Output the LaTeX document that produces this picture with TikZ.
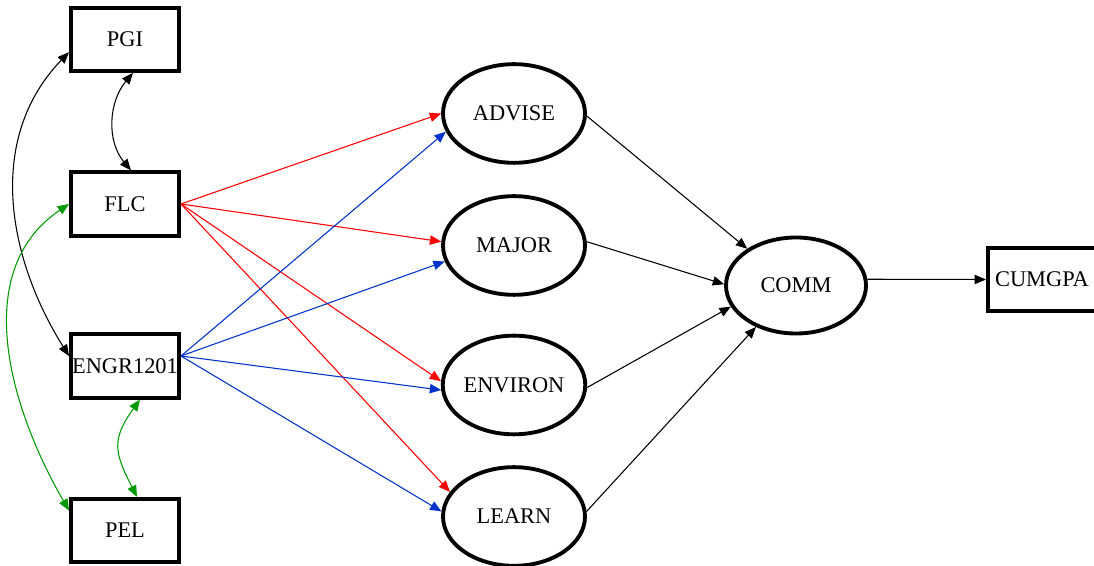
\documentclass[tikz,border=0pt]{standalone}
\usepackage{fontspec}
\setmainfont{Liberation Serif}
\usetikzlibrary{arrows.meta,shapes.geometric,calc}
\definecolor{pathred}{RGB}{255,0,0}
\definecolor{pathblue}{RGB}{0,51,204}
\definecolor{pathgreen}{RGB}{0,153,0}

\begin{document}
\begin{tikzpicture}[x=0.75pt,y=0.75pt,
  lbl/.style={font=\fontsize{16.8}{20}\selectfont},
  obsbox/.style={lbl, draw, rectangle, line width=3pt, minimum width=81pt, minimum height=47.5pt, inner sep=0pt},
  latent/.style={lbl, draw, ellipse, line width=2.9pt, minimum width=106.5pt, minimum height=74pt, inner sep=0pt},
  tip/.tip={Triangle[length=8.5pt,width=7pt]},
  effect/.style={line width=0.8pt, -tip},
  covar/.style={line width=0.8pt, tip-tip},
]
\useasboundingbox (0,0) rectangle (1094,566);

% observed variables
\node[obsbox] (pgi)    at (125,526.8) {PGI};
\node[obsbox] (flc)    at (125,362)   {FLC};
\node[obsbox] (engr)   at (125,200)   {ENGR1201};
\node[obsbox] (pel)    at (125,35.5)  {PEL};
\node[obsbox] (cumgpa) at (1042,286.5) {CUMGPA};

% latent factors
\node[latent] (adv)  at (514,452.5) {ADVISE};
\node[latent] (maj)  at (514,320.5) {MAJOR};
\node[latent] (env)  at (514,181)   {ENVIRON};
\node[latent] (lrn)  at (514,49.5)  {LEARN};
\node[latent, minimum width=105pt, minimum height=72pt] (comm) at (796,280.5) {COMM};

% FLC paths
\draw[effect, pathred] (flc.east) -- (adv.180);
\draw[effect, pathred] (flc.east) -- (maj.177);
\draw[effect, pathred] (flc.east) -- (env.177);
\draw[effect, pathred] (flc.east) -- (lrn.159);

% ENGR1201 paths
\coordinate (engrout) at ($(engr.east)+(0,10)$);
\draw[effect, pathblue] (engrout) -- (adv.195);
\draw[effect, pathblue] (engrout) -- (maj.193);
\draw[effect, pathblue] (engrout) -- (env.184);
\draw[effect, pathblue] (engrout) -- (lrn.176);

% factors to COMM and outcome
\draw[effect] (adv.358) -- (comm.143);
\draw[effect] (maj.3)   -- (comm.179);
\draw[effect] (env.358) -- (comm.198);
\draw[effect] (lrn.4)   -- (comm.226);
\draw[effect] (comm.5)  -- (cumgpa.west);

% covariances
\draw[covar] ($(pgi.south)+(8,0)$) to[out=230,in=130] ($(flc.north)+(6,0)$);
\draw[covar] ($(pgi.west)+(0,-13)$) to[out=226,in=122] ($(engr.west)+(0,10)$);
\draw[covar, pathgreen] (flc.west) to[out=214,in=120] ($(pel.west)+(0,20)$);
\draw[covar, pathgreen] ($(engr.south)+(15,0)$) to[out=234,in=117,looseness=1.3] ($(pel.north)+(12,0)$);
\end{tikzpicture}
\end{document}
